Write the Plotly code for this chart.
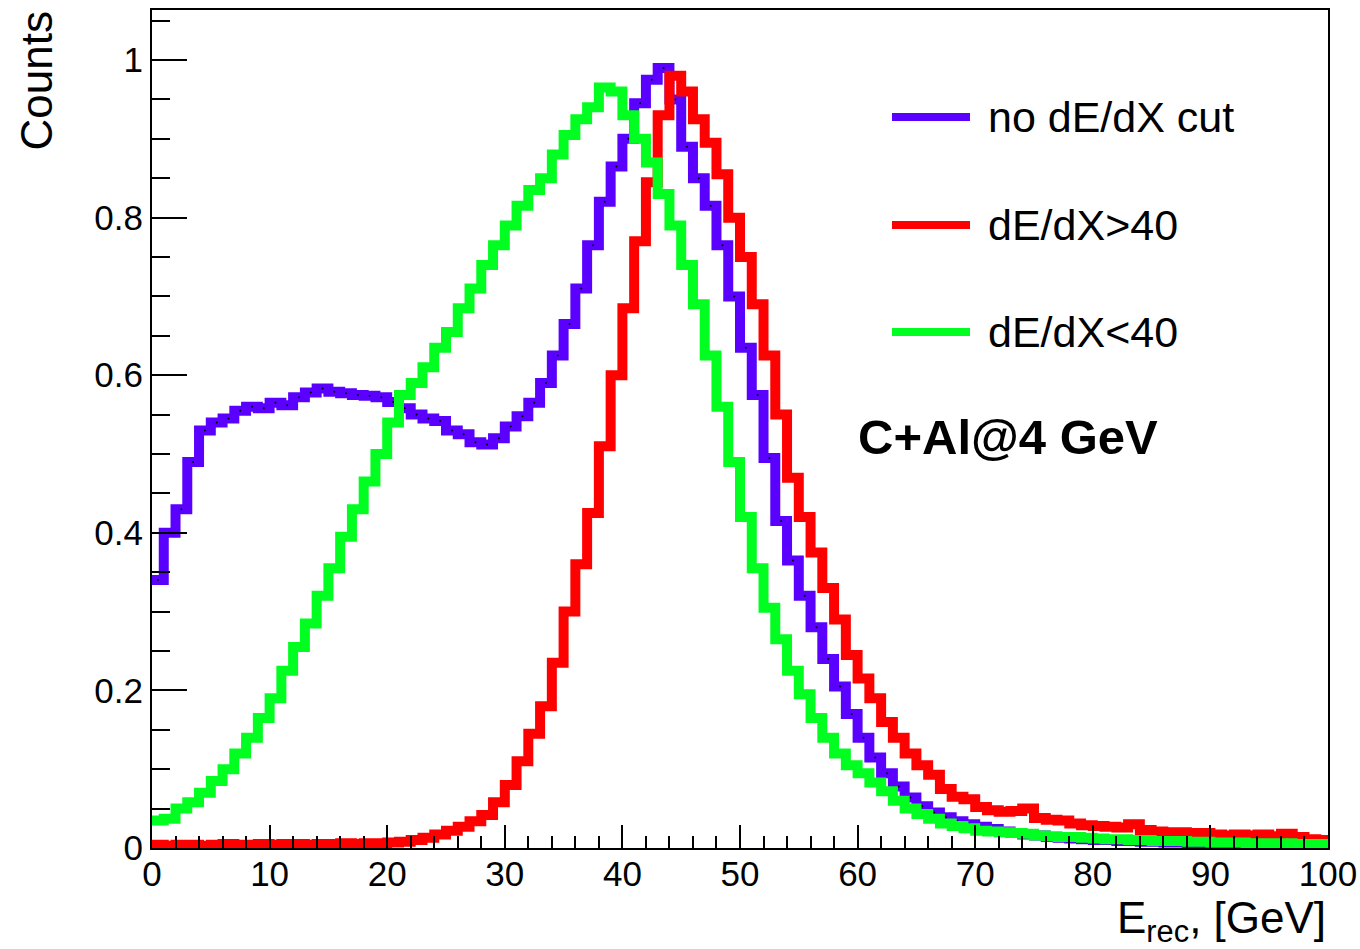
import plotly.graph_objects as go

# 1 GeV bins from 0 to 100 GeV
bin_edges = list(range(0, 101))

no_cut = [0.34, 0.40, 0.43, 0.49, 0.53, 0.54, 0.545, 0.555, 0.56, 0.558,
          0.565, 0.562, 0.572, 0.578, 0.583, 0.579, 0.577, 0.575, 0.574, 0.572,
          0.566, 0.558, 0.55, 0.545, 0.542, 0.53, 0.525, 0.515, 0.512, 0.52,
          0.535, 0.548, 0.565, 0.59, 0.625, 0.665, 0.71, 0.765, 0.82, 0.865,
          0.90, 0.945, 0.975, 0.99, 0.95, 0.89, 0.85, 0.815, 0.765, 0.70,
          0.635, 0.575, 0.495, 0.415, 0.365, 0.32, 0.28, 0.24, 0.205, 0.17,
          0.14, 0.115, 0.095, 0.078, 0.064, 0.053, 0.045, 0.039, 0.034, 0.03,
          0.027, 0.024, 0.021, 0.019, 0.017, 0.016, 0.014, 0.013, 0.012, 0.011,
          0.010, 0.010, 0.009, 0.009, 0.008, 0.008, 0.007, 0.007, 0.006, 0.006,
          0.005, 0.005, 0.005, 0.004, 0.004, 0.004, 0.003, 0.003, 0.003, 0.003]

dedx_gt40 = [0.004, 0.003, 0.004, 0.004, 0.003, 0.004, 0.005, 0.004, 0.004, 0.005,
             0.004, 0.005, 0.005, 0.004, 0.005, 0.005, 0.006, 0.005, 0.006, 0.006,
             0.007, 0.008, 0.010, 0.013, 0.017, 0.022, 0.027, 0.034, 0.042, 0.058,
             0.08, 0.11, 0.145, 0.18, 0.235, 0.30, 0.36, 0.425, 0.51, 0.60,
             0.685, 0.77, 0.845, 0.93, 0.98, 0.96, 0.925, 0.895, 0.855, 0.80,
             0.75, 0.69, 0.625, 0.55, 0.47, 0.42, 0.375, 0.33, 0.29, 0.245,
             0.215, 0.19, 0.16, 0.14, 0.12, 0.105, 0.093, 0.075, 0.065, 0.062,
             0.052, 0.048, 0.046, 0.047, 0.050, 0.038, 0.036, 0.035, 0.031, 0.029,
             0.028, 0.027, 0.026, 0.030, 0.023, 0.021, 0.020, 0.020, 0.019, 0.019,
             0.017, 0.016, 0.017, 0.016, 0.017, 0.015, 0.018, 0.014, 0.011, 0.010]

dedx_lt40 = [0.035, 0.037, 0.05, 0.058, 0.07, 0.085, 0.10, 0.12, 0.14, 0.165,
             0.19, 0.225, 0.255, 0.285, 0.32, 0.355, 0.395, 0.43, 0.465, 0.50,
             0.54, 0.575, 0.59, 0.61, 0.635, 0.655, 0.685, 0.71, 0.74, 0.765,
             0.79, 0.815, 0.835, 0.85, 0.88, 0.905, 0.925, 0.94, 0.965, 0.96,
             0.93, 0.90, 0.87, 0.83, 0.79, 0.74, 0.69, 0.625, 0.56, 0.49,
             0.42, 0.355, 0.305, 0.265, 0.225, 0.195, 0.165, 0.14, 0.12, 0.105,
             0.095, 0.083, 0.072, 0.06, 0.05, 0.043, 0.037, 0.031, 0.028, 0.025,
             0.022, 0.021, 0.020, 0.019, 0.018, 0.016, 0.015, 0.014, 0.014, 0.013,
             0.012, 0.011, 0.011, 0.010, 0.010, 0.009, 0.009, 0.009, 0.008, 0.008,
             0.007, 0.007, 0.007, 0.006, 0.006, 0.006, 0.006, 0.005, 0.005, 0.005]

series_names = ["no dE/dX cut", "dE/dX>40", "dE/dX<40"]
series_colors = ["#5a00ff", "#ff0000", "#00ff20"]
x_tick_vals = [0, 10, 20, 30, 40, 50, 60, 70, 80, 90, 100]
y_tick_vals = [0, 0.2, 0.4, 0.6, 0.8, 1.0]
y_tick_text = ["0", "0.2", "0.4", "0.6", "0.8", "1"]

FONT = "Liberation Sans, Arial, Helvetica, sans-serif"

fig = go.Figure()
for vals, name, col in zip([no_cut, dedx_gt40, dedx_lt40], series_names, series_colors):
    fig.add_trace(go.Scatter(
        x=bin_edges, y=vals + [vals[-1]], mode="lines", name=name,
        line=dict(color=col, width=10, shape="hv"), showlegend=False,
        hoverinfo="skip"))
    if name == "no dE/dX cut":
        centers = [e + 0.5 for e in bin_edges[:-1]]
        fig.add_trace(go.Scatter(
            x=centers, y=vals, mode="markers", showlegend=False,
            marker=dict(color="black", size=2), hoverinfo="skip"))

W, H = 1360, 949
L, R, T, B = 152, 32, 10, 101
pw, ph = W - L - R, H - T - B

def px(xp):
    return (xp - L) / pw

def py(yp):
    return (H - B - yp) / ph

shapes = []
annotations = []
leg_y = [117, 225, 332]
for name, col, yy in zip(series_names, series_colors, leg_y):
    shapes.append(dict(type="line", xref="paper", yref="paper",
                       x0=px(892), x1=px(970), y0=py(yy), y1=py(yy),
                       line=dict(color=col, width=8)))
    annotations.append(dict(text=name, xref="paper", yref="paper",
                            x=px(986), y=py(yy), xanchor="left", yanchor="middle",
                            showarrow=False, font=dict(family=FONT, size=43, color="black")))

annotations.append(dict(text="<b>C+Al@4 GeV</b>", xref="paper", yref="paper",
                        x=px(856), y=py(437), xanchor="left", yanchor="middle",
                        showarrow=False, font=dict(family=FONT, size=49, color="black")))
annotations.append(dict(text="Counts", xref="paper", yref="paper",
                        x=px(36), y=1.0, xanchor="center", yanchor="top", textangle=-90,
                        showarrow=False, font=dict(family=FONT, size=44, color="black")))
annotations.append(dict(text="E<sub>rec</sub>, [GeV]", xref="paper", yref="paper",
                        x=1.0, y=py(921), xanchor="right", yanchor="middle",
                        showarrow=False, font=dict(family=FONT, size=44, color="black")))

fig.update_layout(
    width=W, height=H,
    margin=dict(l=L, r=R, t=T, b=B, pad=0, autoexpand=False),
    paper_bgcolor="white", plot_bgcolor="white",
    shapes=shapes, annotations=annotations,
    xaxis=dict(range=[0, 100], tickvals=x_tick_vals, ticks="inside", ticklen=23,
               tickwidth=2, tickcolor="black", showline=True, linecolor="black",
               linewidth=2, mirror=True, showgrid=False, zeroline=False,
               automargin=False, ticklabelstandoff=-6,
               tickfont=dict(family=FONT, size=35, color="black"),
               minor=dict(dtick=2, ticks="inside", ticklen=12, tickwidth=2,
                          tickcolor="black", showgrid=False)),
    yaxis=dict(range=[0, 1.0635], tickvals=y_tick_vals, ticktext=y_tick_text,
               ticks="inside", ticklen=35, tickwidth=2, tickcolor="black",
               showline=True, linecolor="black", linewidth=2, mirror=True,
               showgrid=False, zeroline=False, automargin=False,
               tickfont=dict(family=FONT, size=35, color="black"),
               minor=dict(dtick=0.05, tick0=0, ticks="inside", ticklen=18, tickwidth=2,
                          tickcolor="black", showgrid=False)),
)

fig.write_html("out.html")
